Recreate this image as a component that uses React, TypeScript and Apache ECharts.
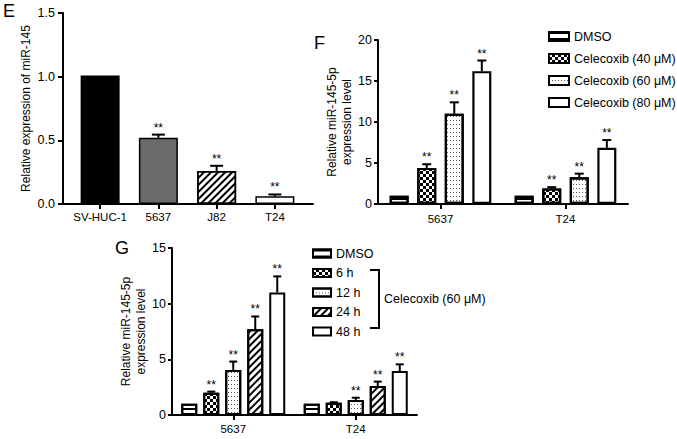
import React, { useEffect, useRef } from "react";
import * as echarts from "echarts";

// ---------- Panel E ----------
const E_CATEGORIES = ["SV-HUC-1", "5637", "J82", "T24"];
const E_VALUES = [1.01, 0.52, 0.26, 0.06];
const E_ERRORS = [0, 0.025, 0.04, 0.015];
const E_STARS = [false, true, true, true];
const E_TICKS = [0, 0.5, 1.0, 1.5];

// ---------- Panel F ----------
const F_CATEGORIES = ["5637", "T24"];
const F_SERIES = ["DMSO", "Celecoxib (40 μM)", "Celecoxib (60 μM)", "Celecoxib (80 μM)"];
const F_DMSO = [1.0, 1.0];
const F_C40 = [4.4, 1.9];
const F_C60 = [11.0, 3.25];
const F_C80 = [16.2, 6.85];
const F_DMSO_ERR = [0, 0];
const F_C40_ERR = [0.45, 0.15];
const F_C60_ERR = [1.4, 0.45];
const F_C80_ERR = [1.3, 0.95];
const F_STARS = [[false, false], [true, true], [true, true], [true, true]];

// ---------- Panel G ----------
const G_CATEGORIES = ["5637", "T24"];
const G_SERIES = ["DMSO", "6 h", "12 h", "24 h", "48 h"];
const G_DMSO = [1.0, 1.0];
const G_H6 = [2.0, 1.1];
const G_H12 = [4.05, 1.35];
const G_H24 = [7.7, 2.6];
const G_H48 = [11.0, 3.95];
const G_DMSO_ERR = [0, 0];
const G_H6_ERR = [0.1, 0.05];
const G_H12_ERR = [0.75, 0.2];
const G_H24_ERR = [1.15, 0.4];
const G_H48_ERR = [1.45, 0.6];
const G_STARS = [[false, false], [true, false], [true, true], [true, true], [true, true]];

const FONT = "'Liberation Sans', Arial, Helvetica, sans-serif";

const decalStripesH = { symbol: "rect", symbolSize: 1, color: "#000", dashArrayX: [1, 0], dashArrayY: [1.2, 3.8], rotation: 0 };
const decalChecker = { symbol: "rect", symbolSize: 1, color: "#000", dashArrayX: [[3, 3], [0, 3, 3, 0]], dashArrayY: [3, 0], rotation: 0 };
const decalDots = { symbol: "rect", symbolSize: 1, color: "#555", dashArrayX: [1, 2], dashArrayY: [1, 3], rotation: 0 };
const decalHatch = { symbol: "rect", symbolSize: 1, color: "#000", dashArrayX: [1, 0], dashArrayY: [1.2, 2.6], rotation: -Math.PI / 4 };

function errorSeries(axisIdx: number, values: number[], errors: number[], stars: boolean[], offset: number, capW: number, lw: number) {
  return {
    type: "custom",
    xAxisIndex: axisIdx,
    yAxisIndex: axisIdx,
    z: 5,
    silent: true,
    data: values.map((v, i) => [i, v, errors[i], stars[i] ? 1 : 0]),
    encode: { x: 0, y: 1 },
    renderItem: (params: any, api: any) => {
      const c = api.value(0);
      const v = api.value(1);
      const e = api.value(2);
      const s = api.value(3);
      const p0 = api.coord([c, v]);
      const p1 = api.coord([c, v + e]);
      const x = p0[0] + offset;
      const children: any[] = [];
      if (e > 0) {
        children.push({ type: "line", shape: { x1: x, y1: p0[1], x2: x, y2: p1[1] }, style: { stroke: "#000", lineWidth: lw } });
        children.push({ type: "line", shape: { x1: x - capW / 2, y1: p1[1], x2: x + capW / 2, y2: p1[1] }, style: { stroke: "#000", lineWidth: lw } });
      }
      if (s) {
        children.push({
          type: "text",
          x: x,
          y: p1[1] - 1,
          style: { text: "**", fill: "#000", font: "12px " + FONT, align: "center", verticalAlign: "bottom" },
        });
      }
      return { type: "group", children };
    },
  };
}

function yAxisCommon(gridIndex: number, max: number, interval: number, tickLen: number, margin: number, fmt?: (v: number) => string) {
  return {
    type: "value",
    gridIndex,
    min: 0,
    max,
    interval,
    splitLine: { show: false },
    axisLine: { show: true, lineStyle: { color: "#000", width: 2 } },
    axisTick: { show: true, length: tickLen, lineStyle: { color: "#000", width: 2 } },
    axisLabel: { color: "#000", fontSize: 12.5, fontFamily: FONT, margin, formatter: fmt },
    nameLocation: "middle",
    nameTextStyle: { color: "#000", fontSize: 12, fontFamily: FONT, lineHeight: 15 },
  };
}

export default function App() {
  const ref = useRef<HTMLDivElement>(null);
  useEffect(() => {
    document.body.style.margin = "0";
    const chart = echarts.init(ref.current!, null, { renderer: "svg" });

    const fVals = [F_DMSO, F_C40, F_C60, F_C80];
    const fErrs = [F_DMSO_ERR, F_C40_ERR, F_C60_ERR, F_C80_ERR];
    const fDecals = [decalStripesH, decalChecker, decalDots, null];
    const fBarW = 19;
    const fGap = 0.45;
    const fStep = fBarW * (1 + fGap);

    const gVals = [G_DMSO, G_H6, G_H12, G_H24, G_H48];
    const gErrs = [G_DMSO_ERR, G_H6_ERR, G_H12_ERR, G_H24_ERR, G_H48_ERR];
    const gDecals = [decalStripesH, decalChecker, decalDots, decalHatch, null];
    const gBarW = 16;
    const gGap = 0.375;
    const gStep = gBarW * (1 + gGap);

    const eItemStyles = [
      { color: "#000", borderColor: "#000", borderWidth: 1.5 },
      { color: "#6b6b6b", borderColor: "#000", borderWidth: 1.5 },
      { color: "#fff", borderColor: "#000", borderWidth: 1.5, decal: decalHatch },
      { color: "#fff", borderColor: "#000", borderWidth: 1.5 },
    ];

    const series: any[] = [];
    series.push({
      type: "bar",
      name: "E",
      xAxisIndex: 1,
      yAxisIndex: 1,
      barWidth: 39,
      data: E_VALUES.map((v, i) => ({ value: v, itemStyle: eItemStyles[i] })),
    });
    series.push(errorSeries(1, E_VALUES, E_ERRORS, E_STARS, 0, 13, 2));

    F_SERIES.forEach((name, i) => {
      const it: any = { color: "#fff", borderColor: "#000", borderWidth: 2.2 };
      if (fDecals[i]) it.decal = fDecals[i];
      series.push({ type: "bar", name, xAxisIndex: 2, yAxisIndex: 2, barWidth: fBarW, barGap: fGap * 100 + "%", data: fVals[i], itemStyle: it });
    });
    F_SERIES.forEach((name, i) => {
      series.push(errorSeries(2, fVals[i], fErrs[i], F_STARS[i], (i - 1.5) * fStep, 9, 2));
    });

    G_SERIES.forEach((name, i) => {
      const it: any = { color: "#fff", borderColor: "#000", borderWidth: 2 };
      if (gDecals[i]) it.decal = gDecals[i];
      series.push({ type: "bar", name, xAxisIndex: 3, yAxisIndex: 3, barWidth: gBarW, barGap: gGap * 100 + "%", data: gVals[i], itemStyle: it });
    });
    G_SERIES.forEach((name, i) => {
      series.push(errorSeries(3, gVals[i], gErrs[i], G_STARS[i], (i - 2) * gStep, 8, 2));
    });

    const catAxis = (gridIndex: number, data: string[], margin: number, fontSize: number, showLine: boolean, showTick: boolean, showLabel: boolean) => ({
      type: "category",
      gridIndex,
      data,
      axisLine: { show: showLine, lineStyle: { color: "#000", width: 2 } },
      axisTick: { show: showTick, alignWithLabel: true, length: 5, lineStyle: { color: "#000", width: 2 } },
      axisLabel: { show: showLabel, interval: 0, color: "#000", fontSize, fontFamily: FONT, margin },
    });

    chart.setOption({
      animation: false,
      textStyle: { fontFamily: FONT },
      grid: [
        { left: 63, top: 13, width: 250, height: 191 },
        { left: 71, top: 13, width: 233, height: 191 },
        { left: 378, top: 40, width: 250, height: 164 },
        { left: 172, top: 248, width: 245, height: 167 },
      ],
      xAxis: [
        catAxis(0, ["_"], 5, 11.5, true, false, false),
        catAxis(1, E_CATEGORIES, 7, 11.5, false, true, true),
        catAxis(2, F_CATEGORIES, 9, 11.5, true, true, true),
        catAxis(3, G_CATEGORIES, 8, 11.5, true, true, true),
      ],
      yAxis: [
        { ...yAxisCommon(0, E_TICKS[E_TICKS.length - 1], 0.5, 5, 8, (v: number) => v.toFixed(1)), name: "Relative expression of miR-145", nameGap: 26 },
        { type: "value", gridIndex: 1, min: 0, max: E_TICKS[E_TICKS.length - 1], show: false },
        { ...yAxisCommon(2, 20, 5, 4, 6), name: "Relative miR-145-5p\nexpression level", nameGap: 17 },
        { ...yAxisCommon(3, 15, 5, 4, 6), name: "Relative miR-145-5p\nexpression level", nameGap: 21 },
      ],
      legend: [
        {
          data: F_SERIES,
          orient: "vertical",
          left: 548,
          top: 30,
          padding: 0,
          itemWidth: 20,
          itemHeight: 9,
          itemGap: 9,
          icon: "rect",
          selectedMode: false,
          textStyle: { color: "#000", fontSize: 12.5, fontFamily: FONT, lineHeight: 13 },
        },
        {
          data: G_SERIES,
          orient: "vertical",
          left: 312,
          top: 247,
          padding: 0,
          itemWidth: 18,
          itemHeight: 8,
          itemGap: 6.5,
          icon: "rect",
          selectedMode: false,
          textStyle: { color: "#000", fontSize: 12.5, fontFamily: FONT, lineHeight: 13 },
        },
      ],
      graphic: [
        { type: "text", left: 3, top: 2, style: { text: "E", font: "18px " + FONT, fill: "#000" } },
        { type: "text", left: 314, top: 34, style: { text: "F", font: "18px " + FONT, fill: "#000" } },
        { type: "text", left: 115, top: 239, style: { text: "G", font: "18px " + FONT, fill: "#000" } },
        {
          type: "polyline",
          shape: { points: [[370, 270], [379, 270], [379, 328], [370, 328]] },
          style: { stroke: "#000", lineWidth: 2, fill: null },
        },
        { type: "text", x: 384, y: 299, style: { text: "Celecoxib (60 μM)", font: "12.5px " + FONT, fill: "#000", verticalAlign: "middle" } },
      ],
      series,
    });
    return () => chart.dispose();
  }, []);
  return <div ref={ref} style={{ width: 677, height: 439 }} />;
}
